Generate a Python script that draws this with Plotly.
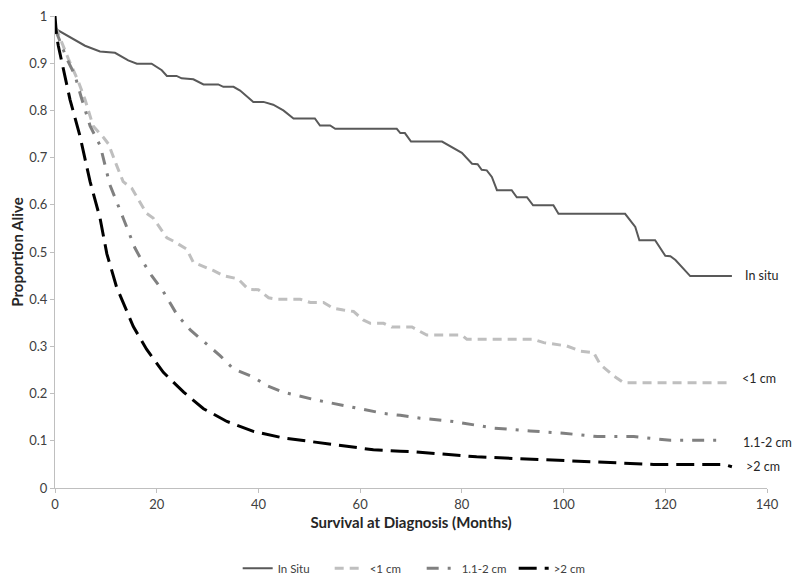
import plotly.graph_objects as go

# In situ
insitu_x = [0, 0.2, 5.9, 8.85, 11.8, 14.4, 16.1, 19, 21, 22, 23.9, 24.9, 27.2, 29.2, 32.1, 33.1, 35.1, 36.4, 39, 41, 42.9, 44.9, 46.9, 51.1, 52.1, 54.1, 55.1, 67.2, 67.9, 68.8, 70.0, 76.1, 80.0, 82.0, 83.1, 83.9, 84.9, 85.9, 86.9, 89.8, 90.8, 92.8, 94.0, 98.0, 99.0, 112.1, 114.1, 114.9, 118.0, 120.0, 121.0, 122.0, 124.9, 133.1]
insitu_y = [0.975, 0.972, 0.937, 0.925, 0.922, 0.906, 0.899, 0.899, 0.885, 0.873, 0.873, 0.868, 0.866, 0.855, 0.855, 0.850, 0.850, 0.842, 0.818, 0.818, 0.812, 0.800, 0.783, 0.783, 0.768, 0.768, 0.761, 0.761, 0.752, 0.752, 0.734, 0.734, 0.710, 0.687, 0.686, 0.674, 0.673, 0.659, 0.631, 0.631, 0.616, 0.616, 0.599, 0.599, 0.581, 0.581, 0.553, 0.525, 0.525, 0.492, 0.491, 0.483, 0.449, 0.449]

# <1 cm
lt1_x = [0, 0.3, 2.6, 4.6, 5.9, 7.5, 9.5, 10.5, 12.1, 13.4, 15.1, 18, 19.3, 22, 23.3, 25.9, 27.2, 31.1, 33.1, 36, 38, 40, 42, 43.6, 48.2, 50.2, 52.8, 54.7, 56.7, 58.7, 60.6, 62, 64.6, 66.2, 70.2, 73.1, 80, 81, 94.1, 96.1, 100.6, 103.3, 105.9, 107.2, 109.8, 111.8, 133.1]
lt1_y = [0.975, 0.972, 0.910, 0.861, 0.823, 0.767, 0.743, 0.729, 0.684, 0.649, 0.635, 0.582, 0.572, 0.530, 0.523, 0.506, 0.478, 0.461, 0.450, 0.443, 0.421, 0.420, 0.403, 0.400, 0.400, 0.393, 0.393, 0.381, 0.377, 0.374, 0.356, 0.349, 0.349, 0.341, 0.341, 0.324, 0.324, 0.315, 0.315, 0.308, 0.301, 0.290, 0.287, 0.262, 0.238, 0.223, 0.223]

# 1.1-2 cm
mid_x = [0, 0.3, 2.3, 3.9, 5.1, 6.9, 8.9, 10.8, 13.4, 15.7, 16.7, 19, 21.3, 24, 26.6, 29.2, 32.5, 35.1, 39, 41.6, 44.9, 51.5, 54.7, 60, 64.6, 67.9, 71.8, 78.3, 86.2, 93.4, 100, 106.6, 113.8, 121, 131.5]
mid_y = [0.97, 0.965, 0.910, 0.875, 0.830, 0.767, 0.725, 0.642, 0.572, 0.509, 0.489, 0.450, 0.416, 0.367, 0.335, 0.311, 0.280, 0.252, 0.235, 0.217, 0.203, 0.186, 0.179, 0.168, 0.158, 0.154, 0.148, 0.141, 0.127, 0.121, 0.116, 0.109, 0.109, 0.101, 0.101]

# >2 cm
gt2_x = [0, 0.3, 0.65, 2.95, 4.9, 6.9, 8.85, 10.2, 12.1, 15.4, 18, 21.3, 25.3, 29.2, 33.8, 39, 44.9, 51.5, 57.4, 62.6, 67.9, 70.5, 82.9, 94.1, 101.9, 111.1, 117.7, 131.5, 133.1]
gt2_y = [1.0, 0.958, 0.937, 0.823, 0.746, 0.649, 0.572, 0.496, 0.426, 0.342, 0.294, 0.245, 0.203, 0.168, 0.141, 0.120, 0.106, 0.097, 0.089, 0.081, 0.078, 0.077, 0.066, 0.061, 0.057, 0.054, 0.050, 0.050, 0.045]

series_names = ["In Situ", "<1 cm", "1.1-2 cm", ">2 cm"]
end_labels = ["In situ", "<1 cm", "1.1-2 cm", ">2 cm"]
end_label_x = [135.2, 134.6, 134.9, 135.5]
end_label_y = [0.451, 0.231, 0.097, 0.045]

x_ticks = [0, 20, 40, 60, 80, 100, 120, 140]
y_ticks = [0, 0.1, 0.2, 0.3, 0.4, 0.5, 0.6, 0.7, 0.8, 0.9, 1]
y_tick_text = ["0", "0.1", "0.2", "0.3", "0.4", "0.5", "0.6", "0.7", "0.8", "0.9", "1"]

FONT = "Lato, 'Open Sans', sans-serif"

fig = go.Figure()
fig.add_trace(go.Scatter(x=insitu_x, y=insitu_y, mode="lines", name=series_names[0],
                         line=dict(color="#595959", width=2)))
fig.add_trace(go.Scatter(x=lt1_x, y=lt1_y, mode="lines", name=series_names[1],
                         line=dict(color="#bfbfbf", width=3, dash="9px,6px")))
fig.add_trace(go.Scatter(x=mid_x, y=mid_y, mode="lines", name=series_names[2],
                         line=dict(color="#808080", width=3, dash="12px,9px,3px,9px")))
fig.add_trace(go.Scatter(x=gt2_x, y=gt2_y, mode="lines", name=series_names[3],
                         line=dict(color="#000000", width=3, dash="18px,8px")))

for t, xx, yy in zip(end_labels, end_label_x, end_label_y):
    fig.add_annotation(x=xx, y=yy, text=t, showarrow=False, xanchor="left", yanchor="middle",
                       font=dict(family=FONT, size=12.5, color="#262626"), xref="x", yref="y")

# the page body has an 8px default margin, so margins are offset by 8px
fig.update_layout(
    width=800, height=583,
    margin=dict(l=47, r=41, t=8, b=97),
    paper_bgcolor="white", plot_bgcolor="white",
    font=dict(family=FONT, size=12, color="#404040"),
    showlegend=True,
    legend=dict(orientation="h", x=0.515, xanchor="center", y=-0.17, yanchor="middle",
                font=dict(family=FONT, size=11.5, color="#404040"),
                entrywidth=47, bgcolor="rgba(0,0,0,0)"),
)
fig.update_xaxes(range=[0, 140], tickvals=x_ticks, showgrid=False, zeroline=False,
                 showline=True, linecolor="#bfbfbf", linewidth=1, automargin=False,
                 ticks="outside", ticklen=4, tickcolor="#bfbfbf", ticklabeloverflow="allow",
                 tickfont=dict(family=FONT, size=13, color="#404040"),
                 title=dict(text="<b>Survival at Diagnosis (Months)</b>",
                            font=dict(family=FONT, size=15, color="#262626"), standoff=6))
fig.update_yaxes(range=[0, 1], tickvals=y_ticks, ticktext=y_tick_text, showgrid=False, zeroline=False,
                 showline=True, linecolor="#bfbfbf", linewidth=1, automargin=False,
                 ticks="outside", ticklen=4, tickcolor="#bfbfbf", ticklabeloverflow="allow",
                 tickfont=dict(family=FONT, size=13, color="#404040"),
                 title=dict(text="<b>Proportion Alive</b>",
                            font=dict(family=FONT, size=15, color="#262626"), standoff=6))

fig.write_html("out.html")
